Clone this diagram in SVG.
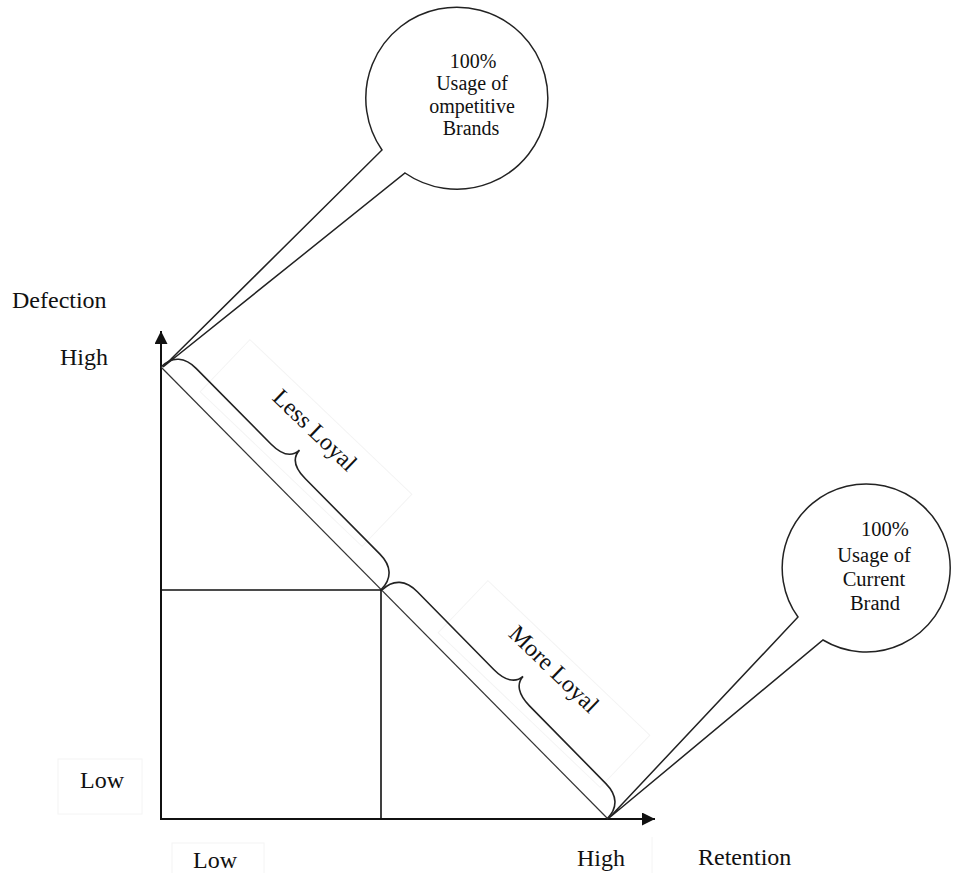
<svg xmlns="http://www.w3.org/2000/svg" width="954" height="873" viewBox="0 0 954 873">
<style>
text{font-family:"Liberation Serif","Times New Roman",serif;fill:#111}
.lbl{font-size:24px}
.bt{font-size:20px;text-anchor:middle}
.bt2{font-size:20.5px;text-anchor:middle}
.axis{stroke:#111;stroke-width:2;fill:none}
.thin{stroke:#333;stroke-width:1.2;fill:none}
.brace{stroke:#222;stroke-width:1.6;fill:none}
.bub{stroke:#222;stroke-width:1.5;fill:#fff}
.ghost{stroke:#f4f4f4;stroke-width:1;fill:none}
</style>
<defs>
<marker id="ah" viewBox="0 0 10 10" refX="10" refY="5" markerWidth="6.5" markerHeight="6.5" orient="auto" markerUnits="strokeWidth">
<path d="M0,0 L10,5 L0,10 Z" fill="#111"/>
</marker>
</defs>
<rect width="954" height="873" fill="#fff"/>
<g id="connectors">
<line class="axis" x1="161" y1="820" x2="161" y2="331" marker-end="url(#ah)"/>
<line class="axis" x1="160" y1="819" x2="655" y2="819" marker-end="url(#ah)"/>
<line class="thin" x1="161" y1="367" x2="608" y2="819"/>
<polyline class="axis" style="stroke-width:1.6" points="161,590 381,590 381,819"/>
</g>
<g id="brace-less">
<rect class="ghost" transform="translate(306,443) rotate(43.7)" x="-112" y="-36" width="224" height="72"/>
<path class="brace" transform="translate(161,367) rotate(45.3)" d="M0,0 C0,-16 10,-24 26,-24 L132,-24 C148,-24 156,-30 156.5,-40 C157,-30 165,-24 181,-24 L287,-24 C303,-24 313,-16 313,0"/>
<text class="lbl" transform="translate(315,430) rotate(44)" text-anchor="middle" y="8">Less Loyal</text>
</g>
<g id="brace-more">
<rect class="ghost" transform="translate(544,684) rotate(43.7)" x="-112" y="-36" width="224" height="72"/>
<path class="brace" transform="translate(382,590) rotate(45.5)" d="M0,0 C0,-16 10,-24 26,-24 L135,-24 C151,-24 160,-30 160.5,-40 C161,-30 170,-24 186,-24 L295,-24 C311,-24 321,-16 321,0"/>
<text class="lbl" transform="translate(554,669) rotate(44)" text-anchor="middle" y="8">More Loyal</text>
</g>
<g id="bubble-competitive">
<path class="bub" d="M382,150 A91,91 0 1 1 405,173 L163,367 Z"/>
<text class="bt" x="473" y="68">100%</text>
<text class="bt" x="472" y="90">Usage of</text>
<text class="bt" x="472" y="113">ompetitive</text>
<text class="bt" x="471" y="135">Brands</text>
</g>
<g id="bubble-current">
<path class="bub" d="M798,617 A84,84 0 1 1 823,640 L609,818 Z"/>
<text class="bt2" x="885" y="536">100%</text>
<text class="bt2" x="874" y="562">Usage of</text>
<text class="bt2" x="874" y="586">Current</text>
<text class="bt2" x="875" y="610">Brand</text>
</g>
<g id="labels">
<text class="lbl" x="12" y="308">Defection</text>
<text class="lbl" x="60" y="365">High</text>
<rect class="ghost" x="58" y="759" width="84" height="55"/>
<text class="lbl" x="80" y="788">Low</text>
<rect class="ghost" x="172" y="843" width="92" height="40"/>
<text class="lbl" x="193" y="868">Low</text>
<line class="ghost" x1="652" y1="837" x2="652" y2="873"/>
<text class="lbl" x="577" y="866">High</text>
<text class="lbl" x="698" y="865">Retention</text>
</g>
</svg>
